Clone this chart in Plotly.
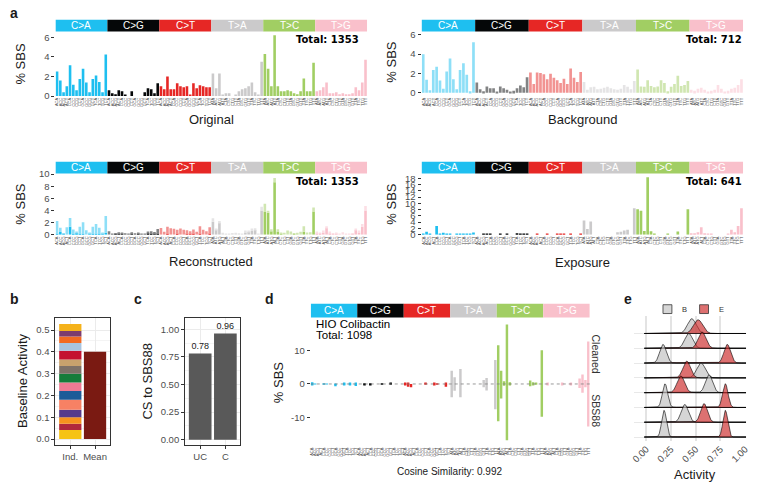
import numpy as np
import plotly.graph_objects as go

W, H = 760, 488
FONT = "Liberation Sans"
TXT = "#1A1A1A"
TICK = "#4D4D4D"

# ---------------- data ----------------
MUT_TYPES = ["C>A", "C>G", "C>T", "T>A", "T>C", "T>G"]
MUT_COLORS = ["#1EBFF0", "#050708", "#E62725", "#CBCACB", "#A1CE63", "#F9C0CB"]
MUT_LIGHT = ["#8EDFF7", "#828384", "#F29392", "#E5E4E5", "#D0E6B1", "#FCDFE5"]
BASES = ["A", "C", "G", "T"]

ORIGINAL = [
    2.5, 1.6, 0.4, 1.0, 3.15, 1.15, 0.6, 1.75, 2.8, 1.4, 0.4, 1.75, 2.1, 1.45, 0.4, 4.25,
    0.6, 0.3, 0.2, 0.6, 0.5, 0.1, 0.0, 0.5, 0.0, 0.0, 0.0, 0.4, 0.8, 0.7, 0.3, 1.3,
    1.0, 0.7, 2.0, 0.7, 0.7, 1.3, 1.0, 0.9, 1.0, 0.1, 1.3, 0.8, 1.1, 1.0, 0.9, 0.9,
    2.3, 0.8, 2.3, 0.1, 0.3, 0.3, 0.0, 0.1, 0.5, 0.7, 0.8, 1.0, 1.4, 0.4, 0.1, 3.5,
    4.3, 2.8, 1.0, 6.2, 1.0, 0.5, 0.5, 0.6, 0.5, 0.3, 0.2, 0.5, 1.8, 0.5, 0.5, 3.4,
    0.5, 0.6, 0.9, 1.4, 0.3, 0.3, 0.4, 0.2, 0.3, 0.2, 0.2, 0.3, 0.9, 0.6, 1.4, 3.7,
]
BACKGROUND = [
    4.0, 1.35, 0.25, 2.35, 2.7, 1.25, 0.4, 2.2, 3.55, 1.4, 0.35, 2.35, 3.05, 1.85, 0.15, 5.25,
    1.05, 0.35, 0.15, 0.65, 0.45, 0.45, 0.1, 0.65, 0.45, 0.3, 0.1, 0.2, 0.45, 0.75, 0.55, 1.6,
    2.1, 0.9, 2.1, 2.05, 1.9, 1.4, 1.95, 1.55, 1.3, 1.0, 1.45, 0.9, 2.5, 1.55, 1.1, 2.15,
    1.1, 0.3, 0.55, 0.6, 0.35, 0.4, 0.5, 0.6, 0.45, 0.35, 0.3, 0.4, 0.8, 0.6, 0.35, 1.2,
    2.4, 0.65, 0.6, 1.3, 0.7, 0.55, 0.65, 1.3, 1.0, 0.15, 0.6, 0.9, 1.75, 0.7, 0.8, 1.2,
    0.3, 0.2, 0.4, 0.5, 0.3, 0.1, 0.2, 0.3, 0.8, 0.4, 0.1, 0.2, 0.4, 0.5, 0.8, 1.4,
]
EXPOSURE = [
    0.3, 0.9, 0.1, 0.0, 2.8, 0.4, 0.6, 0.3, 0.4, 0.0, 0.1, 0.2, 0.3, 0.4, 0.3, 0.7,
    0.0, 0.0, 0.1, 0.1, 0.1, 0.0, 0.0, 0.1, 0.0, 0.1, 0.0, 0.0, 0.5, 0.35, 0.3, 0.25,
    0.0, 0.0, 0.4, 0.0, 0.0, 0.2, 0.0, 0.0, 0.1, 0.1, 0.2, 0.0, 0.15, 0.0, 0.0, 0.2,
    4.5, 1.8, 4.2, 0.0, 0.0, 0.0, 0.0, 0.0, 0.0, 0.0, 0.8, 0.9, 1.3, 1.6, 0.0, 8.4,
    8.1, 7.6, 1.2, 18.3, 1.1, 0.1, 0.0, 0.0, 0.0, 0.2, 0.0, 0.0, 1.0, 0.0, 0.0, 8.1,
    0.5, 0.5, 0.8, 2.4, 0.5, 0.1, 0.4, 0.0, 0.0, 0.0, 0.0, 0.2, 1.6, 0.8, 2.8, 8.4,
]
TOTAL_ORIGINAL = 1353
TOTAL_BACKGROUND = 712
TOTAL_EXPOSURE = 641

CLEANED = [
    0.5, 0.1, 0.0, 0.0, 0.1, 0.1, 0.0, 0.0, 0.1, 0.0, 0.0, 0.3, 0.0, 0.2, 0.0, 0.3,
    0.0, 0.0, 0.1, 0.0, 0.1, 0.0, 0.0, 0.0, 0.1, 0.0, 0.0, 0.3, 0.0, 0.0, 0.0, 0.0,
    0.3, 0.2, 0.0, 0.0, 0.0, 0.0, 0.0, 0.2, 0.0, 0.0, 0.3, 0.1, 0.0, 0.0, 0.2, 0.0,
    3.9, 2.0, 0.0, 4.4, 0.0, 0.0, 0.0, 0.0, 0.0, 0.0, 0.0, 1.2, 1.8, 0.0, 0.0, 7.1,
    11.5, 3.9, 0.8, 17.6, 0.5, 0.0, 0.0, 0.0, 0.0, 0.0, 0.0, 1.0, 0.5, 0.2, 0.0, 10.0,
    0.0, 0.2, 0.0, 0.0, 0.0, 0.0, 0.2, 0.0, 0.0, 0.2, 0.0, 0.0, 1.6, 2.8, 1.2, 12.6,
]
SBS88 = [
    0.2, 0.0, 0.0, 0.0, 0.1, 0.0, 0.0, 0.0, 0.7, 0.0, 0.0, 0.2, 0.0, 0.3, 0.0, 0.6,
    0.0, 0.0, 0.2, 0.0, 0.2, 0.0, 0.0, 0.0, 0.1, 0.0, 0.0, 0.1, 0.0, 0.0, 0.0, 0.0,
    0.3, 0.8, 1.0, 0.0, 0.0, 0.0, 0.0, 0.1, 0.0, 0.0, 0.3, 0.1, 0.0, 0.0, 0.8, 0.0,
    3.9, 2.0, 0.0, 3.9, 0.0, 0.0, 0.0, 0.0, 0.0, 0.0, 0.0, 1.0, 1.9, 0.0, 0.0, 7.5,
    11.0, 4.3, 0.5, 16.7, 0.2, 0.0, 0.0, 0.0, 0.0, 0.0, 0.0, 0.7, 0.4, 0.1, 0.0, 9.7,
    0.0, 0.2, 0.0, 0.0, 0.0, 0.0, 0.2, 0.0, 0.0, 0.2, 0.0, 0.0, 1.2, 2.6, 1.0, 12.6,
]
HIO_TOTAL = 1098
COSINE_SIM = 0.992

B_CATS = ["Ind.", "Mean"]
B_IND_SEGMENTS = [0.042, 0.028, 0.030, 0.035, 0.045, 0.040, 0.040, 0.040,
                  0.035, 0.030, 0.040, 0.035, 0.030, 0.025, 0.032]
B_IND_COLORS = ["#F6C315", "#B0283C", "#F6921E", "#563A8B", "#F78164", "#1D5B98",
                "#EF7A93", "#167C3A", "#7F7268", "#C9A26D", "#C41230", "#A8C4E0",
                "#F26A22", "#7D3C6E", "#F5B21A"]
B_MEAN = 0.40
B_MEAN_COLOR = "#7A1A12"

C_CATS = ["UC", "C"]
C_VALUES = [0.78, 0.96]

E_GROUPS = ["B", "E"]
E_GROUP_FILL = ["rgba(195,195,195,0.7)", "rgba(205,45,45,0.68)"]
E_GROUP_KEY = ["#D6D6D6", "#DD7070"]
# rows listed top to bottom
E_B_MEAN = [0.46, 0.43, 0.17, 0.555, 0.635, 0.19, 0.39, 0.18]
E_B_SD = [0.043, 0.040, 0.034, 0.043, 0.036, 0.027, 0.036, 0.024]
E_B_PEAK = [1.0, 1.0, 1.26, 1.0, 1.2, 1.6, 1.2, 1.8]
E_E_MEAN = [0.525, 0.565, 0.82, 0.41, 0.35, 0.80, 0.585, 0.80]
E_E_SD = [0.046, 0.039, 0.034, 0.038, 0.038, 0.027, 0.034, 0.024]
E_E_PEAK = [0.93, 1.1, 1.26, 1.13, 1.13, 1.6, 1.26, 1.8]

# ---------------- helpers ----------------
CTX_IDS, CTX_LABELS, CTX_COLORS, CTX_LIGHT = [], [], [], []
for m, c, lc in zip(MUT_TYPES, MUT_COLORS, MUT_LIGHT):
    for a in BASES:
        for b in BASES:
            CTX_IDS.append(f"{a}[{m}]{b}")
            CTX_LABELS.append(f"{a}{m[0]}{b}")
            CTX_COLORS.append(c)
            CTX_LIGHT.append(lc)

fig = go.Figure()
lay = {}
ann = []
shp = []


def xname(n): return "xaxis" if n == 1 else f"xaxis{n}"
def yname(n): return "yaxis" if n == 1 else f"yaxis{n}"
def xr(n): return "x" if n == 1 else f"x{n}"
def yr(n): return "y" if n == 1 else f"y{n}"


def add_text(text, x, y, size=13, color=TXT, angle=0, xanchor="center",
             yanchor="middle", family=FONT):
    ann.append(dict(text=text, x=x / W, y=1 - y / H, xref="paper", yref="paper",
                    showarrow=False, font=dict(size=size, color=color, family=family),
                    textangle=angle, xanchor=xanchor, yanchor=yanchor))


def spectrum_axes(n, box, yrange, ytickvals, ytext=None, strip_h=12):
    x0, y0, x1, y1 = box
    lay[xname(n)] = dict(domain=[x0 / W, x1 / W], anchor=yr(n), type="category",
                         categoryorder="array", categoryarray=CTX_IDS, range=[-0.5, 95.5],
                         tickmode="array", tickvals=CTX_IDS, ticktext=CTX_LABELS,
                         tickangle=-90, tickfont=dict(size=4, color=TICK, family=FONT),
                         ticks="", showgrid=False, showline=False, zeroline=False)
    ya = dict(domain=[1 - y1 / H, 1 - y0 / H], anchor=xr(n), range=yrange,
              tickmode="array", tickvals=ytickvals, ticks="outside", ticklen=3,
              tickwidth=1, tickcolor="#333333",
              tickfont=dict(size=9.5, color=TICK, family=FONT),
              showgrid=False, showline=False, zeroline=False)
    if ytext is not None:
        ya["ticktext"] = ytext
    lay[yname(n)] = ya
    for i, (m, c) in enumerate(zip(MUT_TYPES, MUT_COLORS)):
        shp.append(dict(type="rect", xref=xr(n), yref="paper",
                        x0=16 * i - 0.5, x1=16 * i + 15.5,
                        y0=1 - y0 / H, y1=1 - (y0 - strip_h) / H,
                        fillcolor=c, line=dict(width=0), layer="above"))
        ann.append(dict(text=m, xref=xr(n), yref="paper", x=16 * i + 7.5,
                        y=1 - (y0 - strip_h / 2) / H, yanchor="middle", xanchor="center",
                        showarrow=False, font=dict(size=10, color="white", family=FONT)))


def total_label(n, total, y_px, x_px):
    add_text(f"<b>Total: {total}</b>", x_px, y_px, size=10, color="black",
             xanchor="right", yanchor="top", family="DejaVu Sans")


def bar(n, x, y, colors, width=0.8, **kw):
    fig.add_trace(go.Bar(x=x, y=y, marker=dict(color=colors, line=dict(width=0)),
                         width=width, xaxis=xr(n), yaxis=yr(n), showlegend=False,
                         hoverinfo="skip", **kw))


# ---------------- panel a ----------------
spectrum_axes(1, (52, 27, 367, 93), [0, 6.6], [0, 2, 4, 6])
bar(1, CTX_IDS, ORIGINAL, CTX_COLORS)
total_label(1, TOTAL_ORIGINAL, 28, 361)

spectrum_axes(2, (422, 27, 747, 93), [-0.36, 6.36], [0, 2, 4, 6])
bar(2, CTX_IDS, BACKGROUND, CTX_LIGHT)
total_label(2, TOTAL_BACKGROUND, 28, 748)

spectrum_axes(3, (52, 172, 367, 234.5), [0, 10.1], [0, 2, 4, 6, 8, 10])
recon_exp = [v * TOTAL_EXPOSURE / TOTAL_ORIGINAL for v in EXPOSURE]
recon_bg = [v * TOTAL_BACKGROUND / TOTAL_ORIGINAL for v in BACKGROUND]
bar(3, CTX_IDS, recon_exp, CTX_COLORS)
bar(3, CTX_IDS, recon_bg, CTX_LIGHT)
total_label(3, TOTAL_ORIGINAL, 173, 361)

spectrum_axes(4, (422, 172, 747, 234.5), [0, 19.5], list(range(0, 19, 2)))
bar(4, CTX_IDS, EXPOSURE, CTX_COLORS)
total_label(4, TOTAL_EXPOSURE, 173, 748)

add_text("<b>a</b>", 4, 8, size=14, xanchor="left")
add_text("Original", 209.5, 117)
add_text("Background", 585, 117)
add_text("Reconstructed", 209.5, 262)
add_text("Exposure", 585, 263)
for (xx, yy) in [(17, 60), (392, 58), (17, 203), (392, 203)]:
    add_text("% SBS", xx, yy, angle=-90)

# ---------------- panel b ----------------
bw_axis = dict(showline=True, mirror=True, linecolor="#333333", linewidth=1,
               ticks="outside", ticklen=3, tickcolor="#333333", tickwidth=1,
               tickfont=dict(size=9.5, color=TICK, family=FONT),
               showgrid=True, gridcolor="#EBEBEB", gridwidth=1, zeroline=False)
lay[xname(5)] = dict(domain=[52 / W, 107 / W], anchor=yr(5), type="category",
                     categoryorder="array", categoryarray=B_CATS, range=[-0.6, 1.6], **bw_axis)
lay[yname(5)] = dict(domain=[1 - 449 / H, 1 - 320 / H], anchor=xr(5), range=[-0.026, 0.553],
                     tickmode="array", tickvals=[0, 0.1, 0.2, 0.3, 0.4, 0.5],
                     ticktext=["0.0", "0.1", "0.2", "0.3", "0.4", "0.5"],
                     minor=dict(tickmode="array", tickvals=[0.05, 0.15, 0.25, 0.35, 0.45, 0.55],
                                showgrid=True, gridcolor="#F4F4F4", ticks=""), **bw_axis)
for seg, col in zip(B_IND_SEGMENTS, B_IND_COLORS):
    bar(5, [B_CATS[0]], [seg], [col], width=0.9)
bar(5, [B_CATS[1]], [B_MEAN], [B_MEAN_COLOR], width=0.9)
add_text("<b>b</b>", 4, 300, size=14, xanchor="left")
add_text("Baseline Activity", 18, 384, angle=-90)

# ---------------- panel c ----------------
lay[xname(6)] = dict(domain=[183 / W, 239 / W], anchor=yr(6), type="category",
                     categoryorder="array", categoryarray=C_CATS, range=[-0.6, 1.6], **bw_axis)
lay[yname(6)] = dict(domain=[1 - 449 / H, 1 - 320 / H], anchor=xr(6), range=[-0.045, 1.097],
                     tickmode="array", tickvals=[0, 0.25, 0.5, 0.75, 1.0],
                     ticktext=["0.00", "0.25", "0.50", "0.75", "1.00"],
                     minor=dict(tickmode="array", tickvals=[0.125, 0.375, 0.625, 0.875],
                                showgrid=True, gridcolor="#F4F4F4", ticks=""), **bw_axis)
bar(6, C_CATS, C_VALUES, "#595959", width=0.9,
    text=[f"{v:.2f}" for v in C_VALUES], textposition="outside", cliponaxis=False,
    textfont=dict(size=9, color=TXT, family=FONT))
add_text("<b>c</b>", 129, 300, size=14, xanchor="left")
add_text("CS to SBS88", 145, 384, angle=-90)

# ---------------- panel d ----------------
spectrum_axes(7, (310, 319, 592, 450), [-18.3, 19.7], [-10, 0, 10],
              ytext=["-10", "0", "10"], strip_h=14)
bar(7, CTX_IDS, CLEANED, CTX_COLORS, width=0.85)
bar(7, CTX_IDS, [-v for v in SBS88], CTX_COLORS, width=0.85)
shp.append(dict(type="line", xref=f"{xr(7)} domain", x0=0, x1=1, yref=yr(7), y0=0, y1=0,
                line=dict(color="#7F7F7F", width=0.8, dash="dot"), layer="above"))
add_text("<b>d</b>", 262, 300, size=14, xanchor="left")
add_text("HIO Colibactin", 313, 326, size=11.5, color="black", xanchor="left")
add_text(f"Total: {HIO_TOTAL}", 313, 337, size=11.5, color="black", xanchor="left")
add_text("% SBS", 277, 385, angle=-90)
add_text(f"Cosine Similarity: {COSINE_SIM}", 450, 476, size=10)
add_text("Cleaned", 598.5, 356, size=10.5, color="#333333", angle=90)
add_text("SBS88", 598.5, 414, size=10.5, color="#333333", angle=90)

# ---------------- panel e ----------------
lay[xname(8)] = dict(domain=[637 / W, 750 / W], anchor=yr(8), range=[-0.121, 1.01],
                     tickmode="array", tickvals=[0, 0.25, 0.5, 0.75, 1.0],
                     ticktext=["0.00", "0.25", "0.50", "0.75", "1.00"], tickangle=-45,
                     tickfont=dict(size=9.5, color=TICK, family=FONT), ticks="",
                     showgrid=True, gridcolor="#E3E3E3", gridwidth=1.5,
                     showline=False, zeroline=False)
lay[yname(8)] = dict(domain=[1 - 445 / H, 1 - 318 / H], anchor=xr(8), range=[-0.26, 8.15],
                     tickmode="array", tickvals=list(range(8)), showticklabels=False,
                     ticks="", showgrid=True, gridcolor="#E8E8E8", gridwidth=1,
                     showline=False, zeroline=False)
grid = np.linspace(-0.02, 1.01, 400)
params = [(E_B_MEAN, E_B_SD, E_B_PEAK), (E_E_MEAN, E_E_SD, E_E_PEAK)]
nrows = len(E_B_MEAN)
for r in range(nrows):
    base = nrows - 1 - r
    for g, (mu_l, sd_l, pk_l) in enumerate(params):
        dens = pk_l[r] * np.exp(-0.5 * ((grid - mu_l[r]) / sd_l[r]) ** 2)
        xs = np.concatenate([grid, [grid[-1], grid[0]]])
        ys = np.concatenate([base + dens, [base, base]])
        fig.add_trace(go.Scatter(x=xs, y=ys, mode="lines", fill="toself",
                                 fillcolor=E_GROUP_FILL[g],
                                 line=dict(color="black", width=0.6),
                                 xaxis=xr(8), yaxis=yr(8), showlegend=False,
                                 hoverinfo="skip"))
add_text("<b>e</b>", 625, 300, size=14, xanchor="left")
add_text("Activity", 698, 479)
# legend keys
for i, (gname, kc) in enumerate(zip(E_GROUPS, E_GROUP_KEY)):
    kx = 666 + 37 * i
    shp.append(dict(type="rect", xref="paper", yref="paper", x0=kx / W, x1=(kx + 9) / W,
                    y0=1 - 315 / H, y1=1 - 306 / H, fillcolor=kc,
                    line=dict(color="#333333", width=0.8)))
    add_text(gname, kx + 22, 310.5, size=7.5, color="#333333")

fig.update_layout(
    width=W, height=H, margin=dict(l=0, r=0, t=0, b=0),
    paper_bgcolor="white", plot_bgcolor="white",
    barmode="relative", showlegend=False,
    font=dict(family=FONT, color=TXT),
    annotations=ann, shapes=shp, **lay,
)
fig.write_html("out.html")
